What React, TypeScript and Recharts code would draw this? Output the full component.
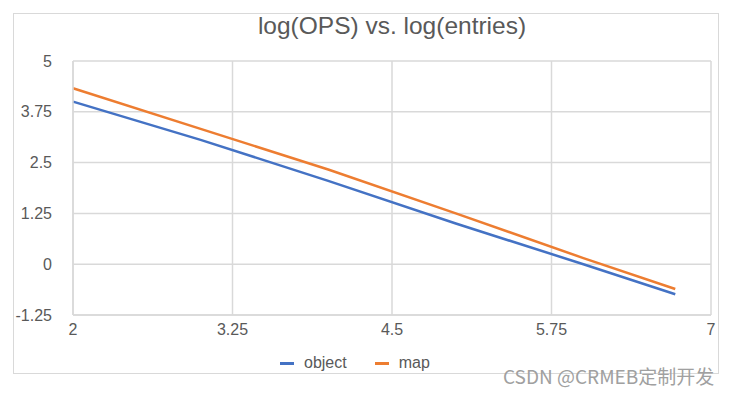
import { LineChart, Line, XAxis, YAxis, CartesianGrid, Legend } from 'recharts';

// log10(entries) on x, log10(ops) on y
const entries = [2, 3, 4, 5, 6, 6.72];
const objectOps = [4.0, 3.06, 2.05, 1.0, 0.0, -0.74];
const mapOps = [4.33, 3.33, 2.33, 1.25, 0.15, -0.61];

const xTicks = [2, 3.25, 4.5, 5.75, 7];
const yTicks = [-1.25, 0, 1.25, 2.5, 3.75, 5];

const data = entries.map((x, i) => ({ x, object: objectOps[i], map: mapOps[i] }));

const font = '"Liberation Sans", Arial, sans-serif';
const gray = '#595959';
const gridColor = '#d9d9d9';

const legendItems = [
  { name: 'object', color: '#4472C4' },
  { name: 'map', color: '#ED7D31' },
];

const LegendContent = () => (
  <div style={{ display: 'flex', paddingLeft: 280, fontFamily: font, fontSize: 16, color: gray }}>
    {legendItems.map((it) => (
      <div key={it.name} style={{ display: 'flex', alignItems: 'center', marginRight: 28 }}>
        <span style={{ display: 'inline-block', width: 14, height: 3, background: it.color, marginRight: 10 }} />
        <span>{it.name}</span>
      </div>
    ))}
  </div>
);

export default function App() {
  return (
    <div style={{ position: 'absolute', left: 0, top: 0, width: 732, height: 396, background: '#fff' }}>
      <div
        style={{
          position: 'absolute',
          left: 13,
          top: 13,
          width: 704,
          height: 359,
          border: `1.5px solid ${gridColor}`,
        }}
      />
      <div
        style={{
          position: 'absolute',
          left: 73,
          width: 638,
          top: 12,
          textAlign: 'center',
          fontFamily: font,
          fontSize: 24.5,
          color: gray,
        }}
      >
        log(OPS) vs. log(entries)
      </div>
      <LineChart
        width={732}
        height={396}
        data={data}
        margin={{ top: 61, right: 21, bottom: 51, left: 13 }}
        style={{ position: 'absolute', left: 0, top: 0 }}
      >
        <CartesianGrid stroke={gridColor} strokeWidth={1.5} />
        <XAxis
          dataKey="x"
          type="number"
          domain={[2, 7]}
          ticks={xTicks}
          tickLine={false}
          tickMargin={3}
          axisLine={{ stroke: gridColor, strokeWidth: 1.5 }}
          tick={{ fill: gray, fontSize: 16, fontFamily: font }}
          interval={0}
        />
        <YAxis
          type="number"
          domain={[-1.25, 5]}
          ticks={yTicks}
          width={60}
          tickLine={false}
          tickMargin={15}
          axisLine={{ stroke: gridColor, strokeWidth: 1.5 }}
          tick={{ fill: gray, fontSize: 16, fontFamily: font }}
          interval={0}
        />
        <Legend
          layout="horizontal"
          verticalAlign="middle"
          content={<LegendContent />}
          wrapperStyle={{ top: 354, left: 0, width: 732 }}
        />
        <Line dataKey="object" name="object" stroke="#4472C4" strokeWidth={2.5} dot={false} isAnimationActive={false} />
        <Line dataKey="map" name="map" stroke="#ED7D31" strokeWidth={2.5} dot={false} isAnimationActive={false} />
      </LineChart>
      <div
        style={{
          position: 'absolute',
          left: 503,
          top: 362,
          fontFamily: '"Noto Sans CJK SC", "Noto Sans", sans-serif',
          fontSize: 19,
          color: '#a0a0a0',
          whiteSpace: 'nowrap',
        }}
      >
        CSDN @CRMEB定制开发
      </div>
    </div>
  );
}
